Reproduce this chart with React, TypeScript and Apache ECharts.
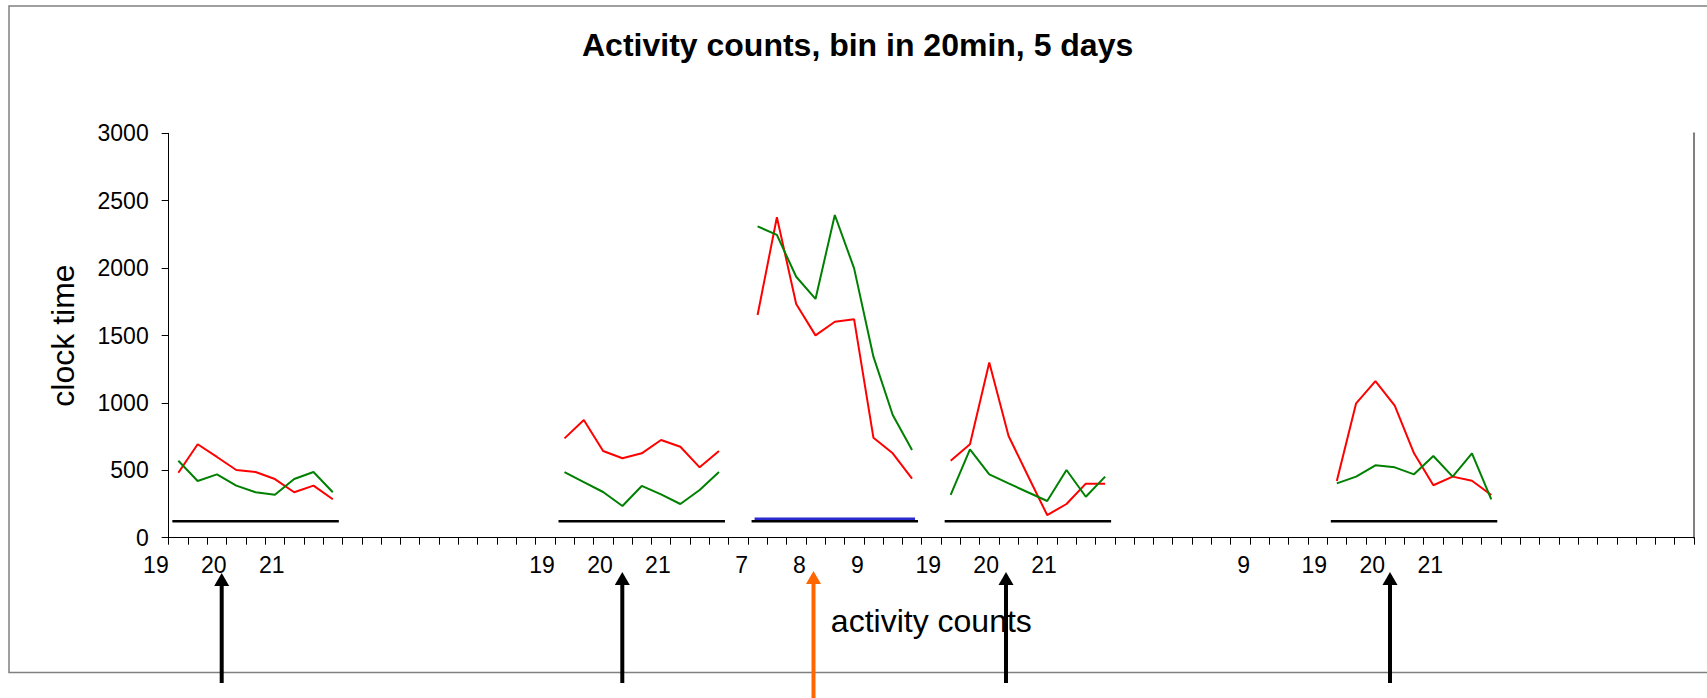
import React, { useEffect, useRef } from "react";
import * as echarts from "echarts";

// ---- data ----
const CATEGORY_COUNT = 79;
const tickLabelIndex = [0, 3, 6, 20, 23, 26, 30, 33, 36, 40, 43, 46, 56, 60, 63, 66];
const tickLabelText = ["19", "20", "21", "19", "20", "21", "7", "8", "9", "19", "20", "21", "9", "19", "20", "21"];
const sessionStart = [0, 20, 30, 40, 60];
const sessionLength = 9;

const red1 = [482, 693, 599, 502, 487, 435, 337, 386, 285];
const green1 = [571, 421, 470, 386, 337, 319, 435, 487, 337];
const red2 = [737, 873, 643, 589, 626, 725, 675, 522, 643];
const green2 = [487, 413, 339, 235, 384, 322, 250, 354, 487];
const red3 = [1652, 2377, 1734, 1501, 1602, 1620, 742, 626, 438];
const green3 = [2310, 2246, 1936, 1771, 2394, 1998, 1343, 910, 651];
const red4 = [571, 693, 1300, 754, 460, 168, 250, 401, 401];
const green4 = [317, 656, 470, 403, 337, 272, 502, 304, 453];
const red5 = [421, 997, 1162, 979, 626, 389, 453, 423, 317];
const green5 = [403, 453, 537, 522, 470, 606, 453, 626, 285];

const redSessions = [red1, red2, red3, red4, red5];
const greenSessions = [green1, green2, green3, green4, green5];

const baselineValue = 122;
const blueSessionIndex = 2;
const blueValue = 138;

const yMin = 0;
const yMax = 3000;
const yInterval = 500;

// ---- build arrays for the library ----
const categories: string[] = Array.from({ length: CATEGORY_COUNT }, () => "");
tickLabelIndex.forEach((idx, i) => {
  categories[idx] = tickLabelText[i];
});

function placeSessions(sessions: number[][]): (number | null)[] {
  const out: (number | null)[] = Array.from({ length: CATEGORY_COUNT }, () => null);
  sessions.forEach((vals, s) => {
    vals.forEach((v, k) => {
      out[sessionStart[s] + k] = v;
    });
  });
  return out;
}

const redData = placeSessions(redSessions);
const greenData = placeSessions(greenSessions);
const blackBars = sessionStart.map((s) => [s, s + sessionLength - 1, baselineValue]);
const blueBars = [[sessionStart[blueSessionIndex], sessionStart[blueSessionIndex] + sessionLength - 1, blueValue]];

const FONT = "Liberation Sans, Arial, Helvetica, sans-serif";

function segmentRenderer(color: string, width: number, ext: number) {
  return (params: any, api: any) => {
    const s = api.coord([api.value(0), api.value(2)]);
    const e = api.coord([api.value(1), api.value(2)]);
    return {
      type: "line",
      shape: { x1: s[0] - ext, y1: s[1], x2: e[0] + ext, y2: e[1] },
      style: { stroke: color, lineWidth: width, fill: null },
    };
  };
}

function arrow(x: number, top: number, bottom: number, color: string) {
  return [
    {
      type: "line",
      shape: { x1: x, y1: top + 10, x2: x, y2: bottom },
      style: { stroke: color, lineWidth: 4 },
      z: 100,
    },
    {
      type: "polygon",
      shape: { points: [[x - 7.5, top + 13], [x + 7.5, top + 13], [x, top]] },
      style: { fill: color },
      z: 100,
    },
  ];
}

export default function App() {
  const ref = useRef<HTMLDivElement>(null);

  useEffect(() => {
    if (!ref.current) return;
    const chart = echarts.init(ref.current, undefined, { renderer: "svg" });
    chart.setOption({
      animation: false,
      backgroundColor: "#ffffff",
      title: {
        text: "Activity counts, bin in 20min, 5 days",
        left: 582,
        top: 29,
        padding: 0,
        textStyle: { fontFamily: FONT, fontSize: 32, fontWeight: "bold", color: "#000" },
      },
      grid: { left: 168.7, top: 133.3, right: 13, bottom: 160.3, containLabel: false },
      xAxis: [
        {
          type: "category",
          data: categories,
          boundaryGap: true,
          name: "activity counts",
          nameLocation: "middle",
          nameGap: 67,
          nameTextStyle: { fontFamily: FONT, fontSize: 32, color: "#000" },
          axisLine: { show: true, lineStyle: { color: "#000", width: 1 } },
          axisTick: { show: true, interval: 0, inside: false, length: 7, lineStyle: { color: "#000", width: 1 } },
          axisLabel: {
            interval: 0,
            fontFamily: FONT,
            fontSize: 23,
            color: "#000",
            align: "right",
            padding: [0, 9.65, 0, 0],
            margin: 16,
          },
          splitLine: { show: false },
        },
        {
          type: "category",
          data: categories,
          position: "top",
          boundaryGap: true,
          axisLine: { show: true, lineStyle: { color: "#000", width: 1 } },
          axisTick: { show: false },
          axisLabel: { show: false },
          splitLine: { show: false },
        },
      ],
      yAxis: [
        {
          type: "value",
          min: yMin,
          max: yMax,
          interval: yInterval,
          name: "clock time",
          nameLocation: "middle",
          nameGap: 90,
          nameTextStyle: { fontFamily: FONT, fontSize: 32, color: "#000" },
          axisLine: { show: true, lineStyle: { color: "#000", width: 1 } },
          axisTick: { show: true, inside: false, length: 7, lineStyle: { color: "#000", width: 1 } },
          axisLabel: {
            fontFamily: FONT,
            fontSize: 23,
            color: "#000",
            margin: 20,
            formatter: (v: number) => String(v),
          },
          splitLine: { show: false },
        },
        {
          type: "value",
          min: yMin,
          max: yMax,
          interval: yInterval,
          position: "right",
          axisLine: { show: true, lineStyle: { color: "#808080", width: 2 } },
          axisTick: { show: false },
          axisLabel: { show: false },
          splitLine: { show: false },
        },
      ],
      series: [
        {
          name: "blue period",
          type: "custom",
          renderItem: segmentRenderer("#2a2ad0", 3, 3),
          encode: { x: [0, 1], y: 2 },
          data: blueBars,
          z: 3,
        },
        {
          name: "baseline",
          type: "custom",
          renderItem: segmentRenderer("#000000", 2.5, 6),
          encode: { x: [0, 1], y: 2 },
          data: blackBars,
          z: 4,
        },
        {
          name: "red",
          type: "line",
          data: redData,
          connectNulls: false,
          symbol: "none",
          lineStyle: { color: "#ff0000", width: 2 },
          itemStyle: { color: "#ff0000" },
          z: 5,
        },
        {
          name: "green",
          type: "line",
          data: greenData,
          connectNulls: false,
          symbol: "none",
          lineStyle: { color: "#008000", width: 2 },
          itemStyle: { color: "#008000" },
          z: 6,
        },
      ],
      graphic: [
        {
          type: "rect",
          shape: { x: 9, y: 6, width: 1720, height: 666.5 },
          style: { fill: null, stroke: "#808080", lineWidth: 1.5 },
          z: -10,
          silent: true,
        },
        ...arrow(221.7, 573, 683, "#000000"),
        ...arrow(622.3, 572, 683, "#000000"),
        ...arrow(813.5, 571, 700, "#ff6600"),
        ...arrow(1006, 572, 683, "#000000"),
        ...arrow(1390, 572, 683, "#000000"),
      ],
    });
    return () => chart.dispose();
  }, []);

  return (
    <div
      ref={ref}
      style={{ position: "absolute", left: 0, top: 0, width: 1707, height: 698, background: "#fff" }}
    />
  );
}
